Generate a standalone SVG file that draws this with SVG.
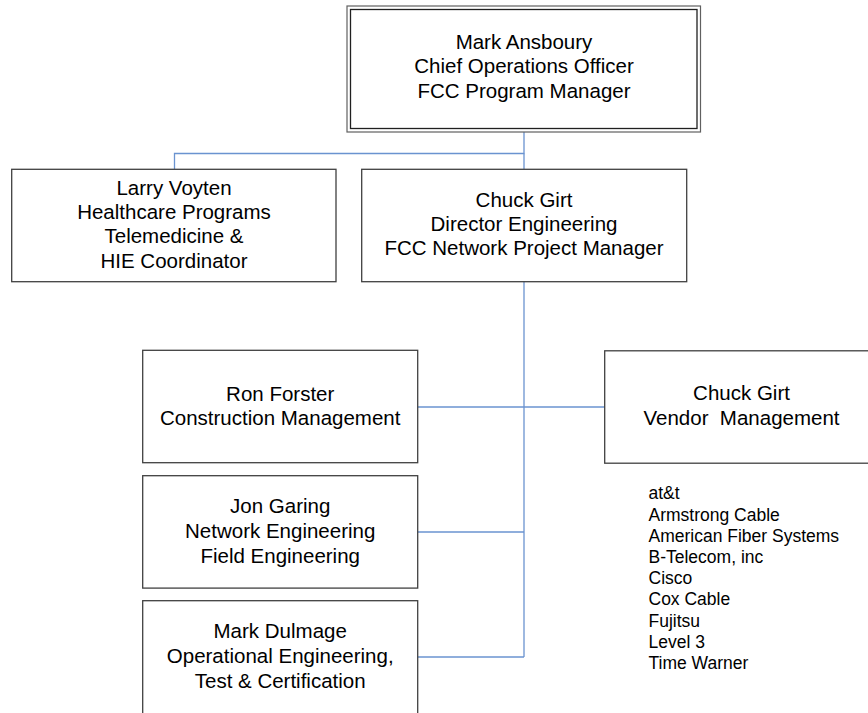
<svg xmlns="http://www.w3.org/2000/svg" width="868" height="713" viewBox="0 0 868 713">
  <style>
    .box { fill: #ffffff; stroke: #404040; stroke-width: 1.3; }
    .lbl { font-family: "Liberation Sans", Arial, sans-serif; font-size: 20.5px; fill: #000000; text-anchor: middle; }
    .list { font-family: "Liberation Sans", Arial, sans-serif; font-size: 17.5px; fill: #000000; }
    .wire { fill: none; stroke: #6a93d0; stroke-width: 1.3; }
  </style>

  <!-- connectors -->
  <g id="connectors">
    <polyline class="wire" points="524,132 524,153.5 174.5,153.5 174.5,169"/>
    <line class="wire" x1="524" y1="153.5" x2="524" y2="169"/>
    <line class="wire" x1="524" y1="282" x2="524" y2="657"/>
    <line class="wire" x1="418" y1="407" x2="605" y2="407"/>
    <line class="wire" x1="418" y1="532" x2="524" y2="532"/>
    <line class="wire" x1="418" y1="657" x2="524" y2="657"/>
  </g>

  <!-- program manager, double frame -->
  <g id="node-ansboury">
    <rect x="347" y="6" width="353.5" height="126" fill="#ffffff" stroke="#606060" stroke-width="1.2"/>
    <rect x="350.5" y="9.5" width="346.5" height="119" fill="none" stroke="#202020" stroke-width="1.3"/>
    <text class="lbl" x="524" y="49">Mark Ansboury</text>
    <text class="lbl" x="524" y="73.3">Chief Operations Officer</text>
    <text class="lbl" x="524" y="97.5">FCC Program Manager</text>
  </g>

  <g id="node-voyten">
    <rect class="box" x="11.7" y="169.3" width="324.3" height="112.4"/>
    <text class="lbl" x="174" y="195">Larry Voyten</text>
    <text class="lbl" x="174" y="219.2">Healthcare Programs</text>
    <text class="lbl" x="174" y="243.4">Telemedicine &amp;</text>
    <text class="lbl" x="174" y="267.8">HIE Coordinator</text>
  </g>

  <g id="node-girt-engineering">
    <rect class="box" x="361.7" y="169.3" width="325" height="112.4"/>
    <text class="lbl" x="524" y="206.7">Chuck Girt</text>
    <text class="lbl" x="524" y="230.7">Director Engineering</text>
    <text class="lbl" x="524" y="254.6">FCC Network Project Manager</text>
  </g>

  <g id="node-forster">
    <rect class="box" x="142.7" y="350.3" width="275" height="112.4"/>
    <text class="lbl" x="280.2" y="400.7">Ron Forster</text>
    <text class="lbl" x="280.2" y="425">Construction Management</text>
  </g>

  <g id="node-girt-vendor">
    <rect class="box" x="604.7" y="350.8" width="275" height="112.4"/>
    <text class="lbl" x="741.5" y="400">Chuck Girt</text>
    <text class="lbl" x="741.5" y="425" xml:space="preserve">Vendor  Management</text>
  </g>

  <g id="node-garing">
    <rect class="box" x="142.7" y="475.7" width="275" height="112.4"/>
    <text class="lbl" x="280.2" y="513.3">Jon Garing</text>
    <text class="lbl" x="280.2" y="538.3">Network Engineering</text>
    <text class="lbl" x="280.2" y="563">Field Engineering</text>
  </g>

  <g id="node-dulmage">
    <rect class="box" x="142.7" y="600.7" width="275" height="125"/>
    <text class="lbl" x="280.2" y="638.3">Mark Dulmage</text>
    <text class="lbl" x="280.2" y="662.7">Operational Engineering,</text>
    <text class="lbl" x="280.2" y="687.5">Test &amp; Certification</text>
  </g>

  <!-- vendor list -->
  <g id="vendor-list">
    <text class="list" x="648.5" y="499.3">at&amp;t</text>
    <text class="list" x="648.5" y="520.5">Armstrong Cable</text>
    <text class="list" x="648.5" y="541.7">American Fiber Systems</text>
    <text class="list" x="648.5" y="562.9">B-Telecom, inc</text>
    <text class="list" x="648.5" y="584.1">Cisco</text>
    <text class="list" x="648.5" y="605.3">Cox Cable</text>
    <text class="list" x="648.5" y="626.5">Fujitsu</text>
    <text class="list" x="648.5" y="647.7">Level 3</text>
    <text class="list" x="648.5" y="668.9">Time Warner</text>
  </g>
</svg>
